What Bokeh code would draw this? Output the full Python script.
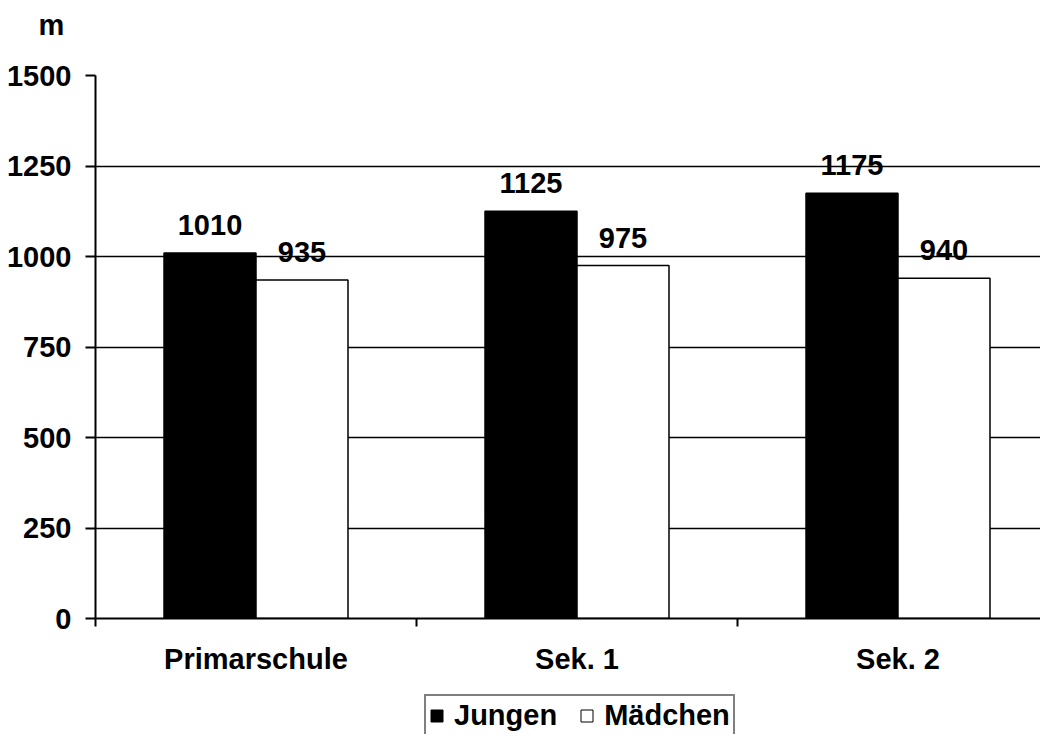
from bokeh.plotting import figure
from bokeh.layouts import column
from bokeh.models import (ColumnDataSource, Range1d, FixedTicker, Legend, LegendItem)
from bokeh.core.properties import value
from bokeh.embed import file_html
from bokeh.resources import INLINE

categories = ["Primarschule", "Sek. 1", "Sek. 2"]
jungen = [1010, 1125, 1175]
maedchen = [935, 975, 940]
series_names = ["Jungen", "Mädchen"]
y_ticks = [0, 250, 500, 750, 1000, 1250, 1500]
unit_label = "m"

FONT = "Liberation Sans"
FS = "29px"

W, H = 1040, 734
H0 = 55          # strip holding the unit label
H1 = 690 - H0    # chart
LEFT, TOP = 95, 75
CAT_PX = 321

bar_w = 0.2866
centers = [i + 0.5 for i in range(len(categories))]
xj = [c - bar_w / 2 for c in centers]
xm = [c + bar_w / 2 for c in centers]

src_j = ColumnDataSource(dict(x=xj, top=jungen, lab=[str(v) for v in jungen]))
src_m = ColumnDataSource(dict(x=xm, top=maedchen, lab=[str(v) for v in maedchen]))

# unit label strip on top
p0 = figure(width=W, height=H0, output_backend="svg", toolbar_location=None,
            x_range=Range1d(0, 1), y_range=Range1d(0, 1),
            x_axis_type=None, y_axis_type=None,
            min_border_left=0, min_border_right=0, min_border_top=0,
            min_border_bottom=0)
p0.outline_line_color = None
p0.grid.grid_line_color = None
p0.title.text = unit_label
p0.title.align = "left"
p0.title.vertical_align = "top"
p0.title.offset = -57
p0.title.standoff = 16
p0.title.text_font = FONT
p0.title.text_font_style = "bold"
p0.title.text_font_size = FS
p0.title.text_color = "black"

p = figure(width=W, height=H1, output_backend="svg", toolbar_location=None,
           title=None,
           x_range=Range1d(0, (W - LEFT) / CAT_PX), y_range=Range1d(0, 1500),
           min_border_left=LEFT, min_border_right=0, min_border_top=TOP - H0,
           min_border_bottom=690 - 618)
p.outline_line_color = None
p.background_fill_color = "white"
p.border_fill_color = "white"

rj = p.vbar(x="x", top="top", width=bar_w, source=src_j, fill_color="black",
            line_color="black", line_width=1.5)
rm = p.vbar(x="x", top="top", width=bar_w, source=src_m, fill_color="white",
            line_color="black", line_width=1.5)

for src in (src_j, src_m):
    p.text(x="x", y="top", text="lab", source=src, text_align="center",
           text_baseline="alphabetic", y_offset=-28,
           text_font=value(FONT), text_font_style="bold",
           text_font_size=FS, text_color="black")

# axes
p.xaxis.ticker = FixedTicker(ticks=centers, minor_ticks=[0, 1, 2, 3])
p.xaxis.major_label_overrides = {c: n for c, n in zip(centers, categories)}
p.xaxis.major_tick_out = 0
p.xaxis.major_tick_in = 0
p.xaxis.minor_tick_out = 8
p.xaxis.minor_tick_in = 0
p.xaxis.minor_tick_line_color = "black"
p.xaxis.minor_tick_line_width = 2
p.xaxis.axis_line_color = "black"
p.xaxis.axis_line_width = 2
p.xaxis.major_label_standoff = 16
p.xaxis.major_label_text_font = FONT
p.xaxis.major_label_text_font_style = "bold"
p.xaxis.major_label_text_font_size = FS
p.xaxis.major_label_text_color = "black"

p.yaxis.ticker = FixedTicker(ticks=y_ticks)
p.yaxis.major_tick_out = 10
p.yaxis.major_tick_in = 0
p.yaxis.minor_tick_out = 0
p.yaxis.minor_tick_in = 0
p.yaxis.major_tick_line_color = "black"
p.yaxis.major_tick_line_width = 2
p.yaxis.axis_line_color = "black"
p.yaxis.axis_line_width = 2
p.yaxis.major_label_standoff = 14
p.yaxis.major_label_text_font = FONT
p.yaxis.major_label_text_font_style = "bold"
p.yaxis.major_label_text_font_size = FS
p.yaxis.major_label_text_color = "black"

p.xgrid.grid_line_color = None
p.ygrid.ticker = FixedTicker(ticks=y_ticks)
p.ygrid.grid_line_color = "black"
p.ygrid.grid_line_width = 1.5

# legend strip below the chart
p2 = figure(width=W, height=H - 690, output_backend="svg", toolbar_location=None,
            x_range=Range1d(0, 1), y_range=Range1d(0, 1),
            x_axis_type=None, y_axis_type=None,
            min_border_left=0, min_border_right=0, min_border_top=0,
            min_border_bottom=0)
p2.outline_line_color = None
p2.grid.grid_line_color = None
lj = p2.vbar(x=[-5], top=[-5], width=0.1, fill_color="black", line_color="black")
lm = p2.vbar(x=[-5], top=[-5], width=0.1, fill_color="white", line_color="black")

legend = Legend(items=[LegendItem(label=series_names[0], renderers=[lj]),
                       LegendItem(label=series_names[1], renderers=[lm])],
                orientation="horizontal", location=(424 - LEFT, -3))
legend.label_text_font = FONT
legend.label_text_font_style = "bold"
legend.label_text_font_size = FS
legend.label_text_color = "black"
legend.glyph_width = 15
legend.glyph_height = 15
legend.label_standoff = 10
legend.spacing = 22
legend.padding = 3
legend.margin = 0
legend.border_line_color = "black"
legend.border_line_width = 2
legend.background_fill_alpha = 1
p2.add_layout(legend, "center")

open("out.html", "w").write(file_html(column(p0, p, p2, spacing=0), INLINE))
